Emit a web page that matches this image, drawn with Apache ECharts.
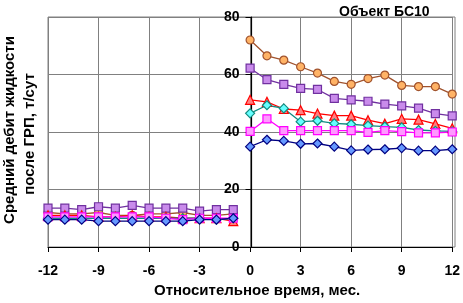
<!DOCTYPE html>
<html>
<head>
<meta charset="utf-8">
<script src="https://cdn.jsdelivr.net/npm/echarts@6/dist/echarts.min.js"></script>
<style>
  html, body { margin: 0; padding: 0; background: #fff; }
  #chart { width: 463px; height: 303px; }
</style>
</head>
<body>
<div id="chart"></div>
<script>
// месяцы до и после ГРП
const monthsBefore = [-12, -11, -10, -9, -8, -7, -6, -5, -4, -3, -2, -1]
const monthsAfter = [0, 1, 2, 3, 4, 5, 6, 7, 8, 9, 10, 11, 12]
const xTicks = [-12, -9, -6, -3, 0, 3, 6, 9, 12]
const yTicks = [0, 20, 40, 60, 80]

// дебит жидкости до ГРП
const orangeBefore = [12, 11.5, 11.5, 12, 11, 11, 11.5, 11.5, 12, 11, 11, 11.5]
const purpleBefore = [13.5, 13.5, 13, 14, 13.5, 14.5, 13.5, 13.5, 13.5, 12.5, 13, 13]
const redBefore = [11, 11, 11, 10.5, 10.5, 11, 10.5, 10.5, 10, 10, 10, 9]
const cyanBefore = [10, 10, 10, 10, 10, 10, 10, 10, 10, 10, 9.5, 10]
const pinkBefore = [10.5, 10.5, 10.5, 10.5, 10.5, 10.5, 10.5, 10, 9.5, 10, 10, 10]
const blueBefore = [9.5, 9.5, 9.5, 9, 9, 9, 9, 9, 9, 9.5, 9.5, 10]

// дебит жидкости после ГРП
const orangeAfter = [72, 66.5, 65, 62.7, 60.5, 57.6, 56.6, 58.6, 59.8, 56.2, 55.8, 55.8, 53.2]
const purpleAfter = [62.2, 58.2, 56.6, 55.2, 54.8, 51.7, 51.2, 50.7, 49.7, 49.1, 48.3, 46.4, 45.6]
const redAfter = [51.2, 50.5, 48, 47.6, 46.4, 45.7, 45.7, 44.1, 42.9, 44.6, 44.3, 42.8, 41.3]
const cyanAfter = [46.5, 49.3, 48.2, 43.6, 43.9, 43, 42.7, 42.2, 41.9, 41.6, 40.7, 40.4, 40.2]
const pinkAfter = [40.2, 44.6, 40.5, 40.5, 40.5, 40.5, 40.5, 39.9, 40.5, 40.1, 39.7, 39.7, 40]
const blueAfter = [34.9, 37.3, 36.9, 35.9, 36, 34.9, 33.6, 33.9, 34, 34.4, 33.5, 33.5, 34]

const FONT = "'Liberation Sans', Arial, sans-serif"

// стиль: линия, заливка маркера, символ
const styles = [
  { before: orangeBefore, after: orangeAfter, line: '#A0522D', fill: '#FFB366', symbol: 'circle', size: 8 },
  { before: purpleBefore, after: purpleAfter, line: '#7030A0', fill: '#C98BEB', symbol: 'rect', size: 8 },
  { before: redBefore, after: redAfter, line: '#FF0000', fill: '#FF8080', symbol: 'triangle', size: 9 },
  { before: cyanBefore, after: cyanAfter, line: '#118C80', fill: '#66FFFF', symbol: 'diamond', size: 9 },
  { before: pinkBefore, after: pinkAfter, line: '#FF00FF', fill: '#FF99FF', symbol: 'rect', size: 8 },
  { before: blueBefore, after: blueAfter, line: '#000080', fill: '#6699FF', symbol: 'diamond', size: 9 }
]

const makeSeries = (s, xs, ys) => ({
  type: 'line',
  data: xs.map((x, i) => [x, ys[i]]),
  symbol: s.symbol,
  symbolSize: s.size,
  lineStyle: { color: s.line, width: 1.3 },
  itemStyle: { color: s.fill, borderColor: s.line, borderWidth: 1.2 },
  animation: false,
  z: 3
})

const series = []
styles.forEach(s => {
  series.push(makeSeries(s, monthsBefore, s.before))
  series.push(makeSeries(s, monthsAfter, s.after))
})

const GRID_LEFT = 48
const GRID_WIDTH = 407
// ось Y стоит на нулевом месяце
const yAxisOffset = -GRID_WIDTH * (0 - xTicks[0]) / (xTicks[xTicks.length - 1] - xTicks[0])

const chart = echarts.init(document.getElementById('chart'))
chart.setOption({
  backgroundColor: '#fff',
  animation: false,
  title: {
    text: 'Объект БС10',
    left: 334,
    top: 0,
    textStyle: { fontFamily: FONT, fontSize: 14, fontWeight: 'bold', color: '#000' }
  },
  grid: { left: GRID_LEFT, width: GRID_WIDTH, top: 17, bottom: 56 },
  xAxis: {
    type: 'value',
    min: xTicks[0],
    max: xTicks[xTicks.length - 1],
    interval: 3,
    name: 'Относительное время, мес.',
    nameLocation: 'middle',
    nameGap: 35,
    nameTextStyle: { fontFamily: FONT, fontSize: 15, fontWeight: 'bold', color: '#000', padding: [0, 0, 0, 14] },
    axisLine: { onZero: false, lineStyle: { color: '#000', width: 1.2 } },
    axisTick: { length: 5, lineStyle: { color: '#000' } },
    axisLabel: { fontFamily: FONT, fontSize: 14, fontWeight: 'bold', color: '#000', margin: 17 },
    splitLine: { show: true, lineStyle: { color: '#808080', width: 1 } }
  },
  yAxis: {
    type: 'value',
    min: yTicks[0],
    max: yTicks[yTicks.length - 1],
    interval: 20,
    offset: yAxisOffset,
    axisLine: { show: true, onZero: false, lineStyle: { color: '#000', width: 1.2 } },
    axisTick: { show: true, length: 6, lineStyle: { color: '#000' } },
    axisLabel: { fontFamily: FONT, fontSize: 14, fontWeight: 'bold', color: '#000', margin: 12 },
    splitLine: { show: true, lineStyle: { color: '#808080', width: 1 } }
  },
  graphic: [
    {
      type: 'rect',
      shape: { x: GRID_LEFT, y: 17, width: GRID_WIDTH, height: 230 },
      style: { fill: 'none', stroke: '#808080', lineWidth: 1 },
      silent: true
    },
    {
      type: 'text',
      x: 10, y: 130, rotation: Math.PI / 2,
      style: { text: 'Средний дебит жидкости', font: 'bold 15px ' + FONT, fill: '#000', align: 'center', verticalAlign: 'middle' }
    },
    {
      type: 'text',
      x: 30, y: 134, rotation: Math.PI / 2,
      style: { text: 'после ГРП, т/сут', font: 'bold 15px ' + FONT, fill: '#000', align: 'center', verticalAlign: 'middle' }
    }
  ],
  series: series
})
</script>
</body>
</html>
